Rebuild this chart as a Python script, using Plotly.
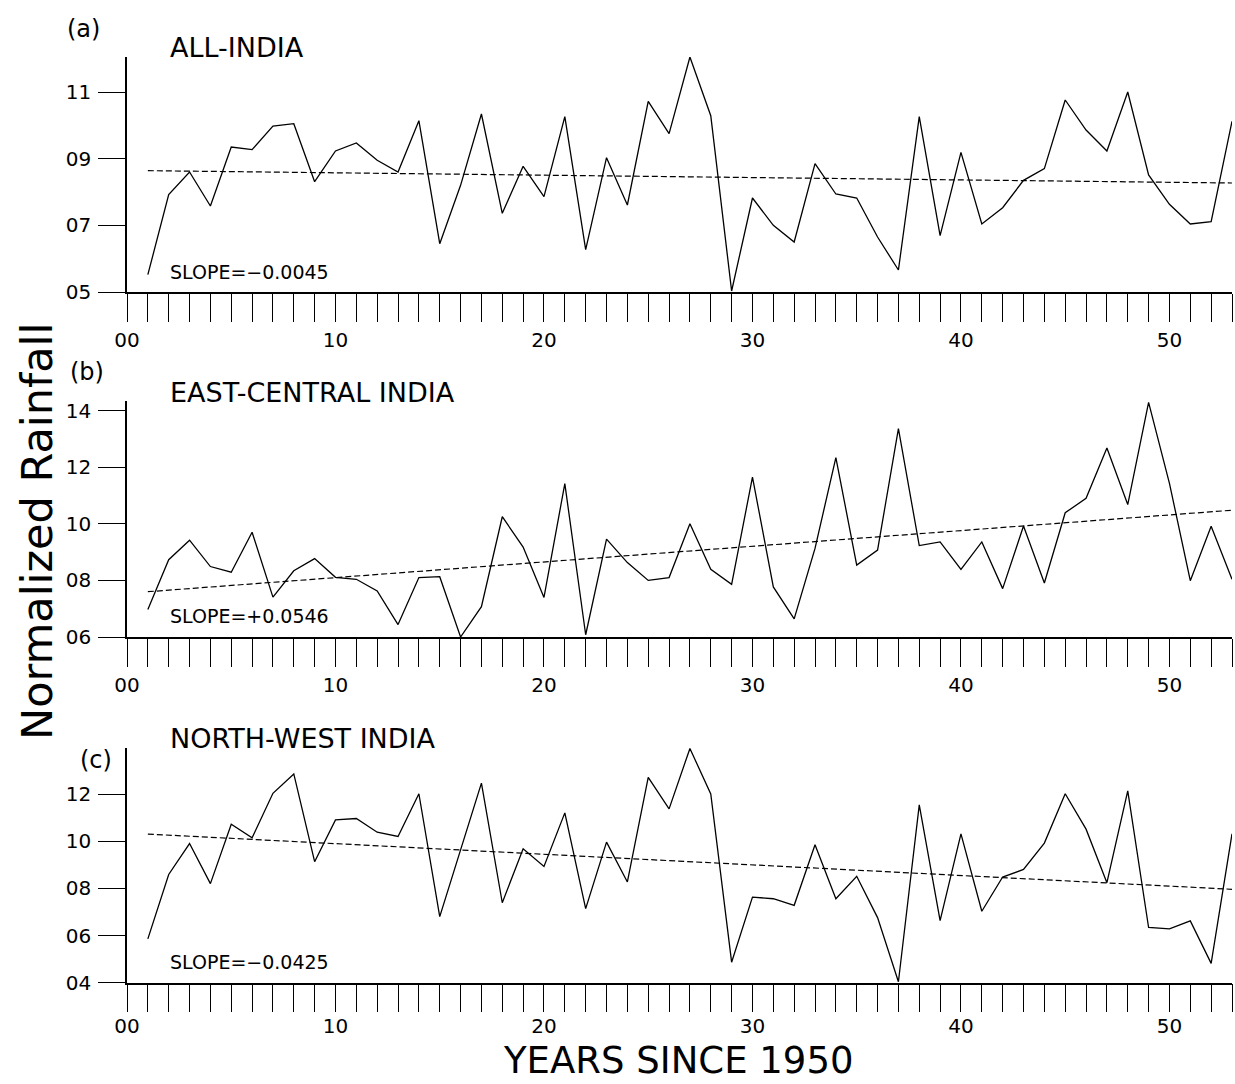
import plotly.graph_objects as go

# ---------------- data ----------------
years = list(range(1, 54))

all_india = [5.52, 7.92, 8.60, 7.58, 9.35, 9.27, 9.98, 10.05, 8.31, 9.23,
             9.47, 8.95, 8.60, 10.14, 6.45, 8.20, 10.34, 7.36, 8.77, 7.86,
             10.26, 6.27, 9.03, 7.61, 10.72, 9.75, 12.05, 10.29, 5.03, 7.82,
             7.00, 6.50, 8.85, 7.94, 7.82, 6.65, 5.66, 10.26, 6.69, 9.19,
             7.04, 7.53, 8.35, 8.70, 10.76, 9.86, 9.23, 11.00, 8.51, 7.63,
             7.04, 7.11, 10.12]

east_central = [6.97, 8.73, 9.42, 8.49, 8.29, 9.70, 7.41, 8.34, 8.77, 8.11,
                8.04, 7.63, 6.44, 8.10, 8.13, 6.00, 7.07, 10.25, 9.18, 7.40,
                11.42, 6.08, 9.46, 8.63, 8.00, 8.10, 10.00, 8.39, 7.86, 11.65,
                7.77, 6.64, 9.13, 12.34, 8.54, 9.07, 13.36, 9.23, 9.36, 8.39,
                9.36, 7.71, 9.92, 7.91, 10.39, 10.90, 12.68, 10.68, 14.29, 11.43,
                7.99, 9.91, 8.04]

north_west = [5.86, 8.59, 9.90, 8.20, 10.72, 10.14, 12.03, 12.85, 9.13, 10.90,
              10.96, 10.38, 10.20, 12.01, 6.80, 9.61, 12.46, 7.39, 9.68, 8.93,
              11.20, 7.14, 9.96, 8.27, 12.70, 11.37, 13.93, 12.00, 4.87, 7.63,
              7.56, 7.28, 9.85, 7.56, 8.51, 6.76, 4.04, 11.54, 6.63, 10.31,
              7.03, 8.48, 8.80, 9.92, 12.01, 10.51, 8.24, 12.13, 6.34, 6.28,
              6.62, 4.82, 10.31]

trend_x = [1, 53]
trend_all = [8.64, 8.27]
trend_east = [7.60, 10.48]
trend_north = [10.30, 7.96]

panel_labels = ["(a)", "(b)", "(c)"]
region_names = ["ALL-INDIA", "EAST-CENTRAL INDIA", "NORTH-WEST INDIA"]
slope_texts = ["SLOPE=−0.0045", "SLOPE=+0.0546", "SLOPE=−0.0425"]

x_tickvals = list(range(0, 54))
x_ticktext = [("%02d" % v) if v % 10 == 0 else "" for v in x_tickvals]

y_ticks_a = [5, 7, 9, 11]
y_ticks_b = [6, 8, 10, 12, 14]
y_ticks_c = [4, 6, 8, 10, 12]
y_ranges = [[5, 12.05], [6, 14.35], [4, 13.95]]

# ---------------- layout helpers ----------------
W, H = 1235, 1084
ML, MR = 127, 3
PW = W - ML - MR


def px_x(px):
    return (px - ML) / PW


def px_y(py):
    return 1 - py / H


panel_pix = [(57, 292), (400.7, 637), (748, 982.7)]  # top, bottom pixel rows
label_pos = [(65, 29), (68, 372), (78, 760)]
title_y = [48, 393, 738]
slope_y = [272, 616, 962]
x_label_standoff = [1, 1, -3]

FONT = "DejaVu Sans"

series = [all_india, east_central, north_west]
trends = [trend_all, trend_east, trend_north]
yticks = [y_ticks_a, y_ticks_b, y_ticks_c]

fig = go.Figure()
for i in range(3):
    xa = "x" if i == 0 else "x%d" % (i + 1)
    ya = "y" if i == 0 else "y%d" % (i + 1)
    fig.add_trace(go.Scatter(x=years, y=series[i], mode="lines",
                             line=dict(color="black", width=1.3),
                             xaxis=xa, yaxis=ya, showlegend=False))
    fig.add_trace(go.Scatter(x=trend_x, y=trends[i], mode="lines",
                             line=dict(color="black", width=1.2, dash="6px,3px"),
                             xaxis=xa, yaxis=ya, showlegend=False))

layout = dict(
    width=W, height=H,
    margin=dict(l=ML, r=MR, t=0, b=0, autoexpand=False),
    paper_bgcolor="white", plot_bgcolor="white",
    font=dict(family=FONT, color="black", size=20),
    showlegend=False,
)

annotations = []
for i in range(3):
    top, bot = panel_pix[i]
    xkey = "xaxis" if i == 0 else "xaxis%d" % (i + 1)
    ykey = "yaxis" if i == 0 else "yaxis%d" % (i + 1)
    yanchor = "y" if i == 0 else "y%d" % (i + 1)
    xanchor = "x" if i == 0 else "x%d" % (i + 1)
    layout[xkey] = dict(
        domain=[0, 1], range=[0, 53], anchor=yanchor,
        showline=True, linecolor="black", linewidth=1.5,
        ticks="outside", ticklen=28, tickwidth=1.3, tickcolor="black",
        tickvals=x_tickvals, ticktext=x_ticktext,
        tickfont=dict(family=FONT, size=20, color="black"),
        ticklabelstandoff=x_label_standoff[i], automargin=False,
        showgrid=False, zeroline=False, fixedrange=True,
    )
    layout[ykey] = dict(
        domain=[px_y(bot), px_y(top)], range=y_ranges[i], anchor=xanchor,
        showline=True, linecolor="black", linewidth=1.5,
        ticks="outside", ticklen=27, tickwidth=1.3, tickcolor="black",
        tickvals=yticks[i], ticktext=["%02d" % v for v in yticks[i]],
        tickfont=dict(family=FONT, size=20, color="black"),
        ticklabelstandoff=3, automargin=False,
        showgrid=False, zeroline=False, fixedrange=True,
    )
    lx, ly = label_pos[i]
    annotations.append(dict(text=panel_labels[i], x=px_x(lx), y=px_y(ly),
                            xref="paper", yref="paper", xanchor="left", yanchor="middle",
                            showarrow=False, font=dict(family=FONT, size=24)))
    annotations.append(dict(text=region_names[i], x=px_x(168), y=px_y(title_y[i]),
                            xref="paper", yref="paper", xanchor="left", yanchor="middle",
                            showarrow=False, font=dict(family=FONT, size=27)))
    annotations.append(dict(text=slope_texts[i], x=px_x(168), y=px_y(slope_y[i]),
                            xref="paper", yref="paper", xanchor="left", yanchor="middle",
                            showarrow=False, font=dict(family=FONT, size=19)))

annotations.append(dict(text="Normalized Rainfall", x=px_x(37), y=px_y(532),
                        xref="paper", yref="paper", xanchor="center", yanchor="middle",
                        textangle=-90, showarrow=False, font=dict(family=FONT, size=43)))
annotations.append(dict(text="YEARS SINCE 1950", x=px_x(678), y=px_y(1084),
                        xref="paper", yref="paper", xanchor="center", yanchor="bottom",
                        showarrow=False, font=dict(family=FONT, size=37)))

layout["annotations"] = annotations
fig.update_layout(**layout)
fig.write_html("out.html", config={"displayModeBar": False},
               post_script="document.body.style.margin='0px';document.body.style.overflow='hidden';")
